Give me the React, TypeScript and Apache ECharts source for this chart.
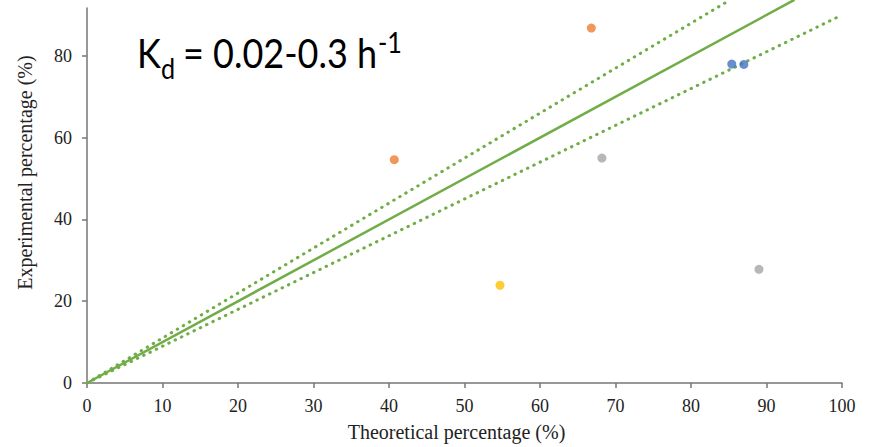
import React, { useEffect, useRef } from "react";
import * as echarts from "echarts";

const xTicks = [0, 10, 20, 30, 40, 50, 60, 70, 80, 90, 100];
const yTicks = [0, 20, 40, 60, 80];

const orangePts = [[40.7, 54.6], [66.8, 86.8]];
const grayPts = [[68.2, 55.0], [89.0, 27.8]];
const yellowPts = [[54.7, 23.9]];
const bluePts = [[85.4, 78.0], [87.0, 77.9]];

const identityLine = [[0, 0], [93.7, 93.7]];
const upperLine = [[0, 0], [85.2, 93.7]];
const lowerLine = [[0, 0], [100, 90]];

const GREEN = "#70AD47";

export default function App() {
  const ref = useRef<HTMLDivElement>(null);
  useEffect(() => {
    if (!ref.current) return;
    const chart = echarts.init(ref.current, undefined, { renderer: "svg" });
    const axisText = { fontFamily: "Liberation Serif", fontSize: 18, color: "#222" };
    const scatter = (data: number[][], color: string) => ({
      type: "scatter",
      data,
      symbolSize: 9,
      itemStyle: { color },
      z: 5,
    });
    const line = (data: number[][], dotted: boolean) => ({
      type: "line",
      data,
      showSymbol: false,
      clip: false,
      silent: true,
      lineStyle: dotted
        ? { color: GREEN, width: 3, type: [0.5, 6.5], cap: "round" }
        : { color: GREEN, width: 2.5, type: "solid" },
      z: 3,
    });
    const kText = (text: string, x: number, y: number, size: number) => ({
      type: "text",
      x,
      y,
      scaleX: 0.9,
      style: { text, fontFamily: "Lato", fontSize: size, fill: "#000", verticalAlign: "middle" },
    });
    chart.setOption({
      animation: false,
      grid: { left: 87, right: 31, top: 8, bottom: 63 },
      xAxis: {
        type: "value",
        min: 0,
        max: 100,
        interval: 10,
        name: "Theoretical percentage (%)",
        nameLocation: "middle",
        nameGap: 39,
        nameTextStyle: { ...axisText, fontSize: 20, padding: [0, 16, 0, 0] },
        axisLine: { lineStyle: { color: "#767676", width: 1.5 } },
        axisTick: { show: true, length: 5, customValues: xTicks, lineStyle: { color: "#767676", width: 1.5 } },
        axisLabel: { ...axisText, margin: 14, customValues: xTicks },
        splitLine: { show: false },
      },
      yAxis: {
        type: "value",
        min: 0,
        max: 91.7,
        name: "Experimental percentage (%)",
        nameLocation: "middle",
        nameGap: 52,
        nameRotate: 90,
        nameTextStyle: { ...axisText, fontSize: 20, padding: [0, 0, 0, 46] },
        axisLine: { show: true, lineStyle: { color: "#767676", width: 1.5 } },
        axisTick: { show: true, length: 5, customValues: yTicks, lineStyle: { color: "#767676", width: 1.5 } },
        axisLabel: { ...axisText, margin: 15, customValues: yTicks },
        splitLine: { show: false },
      },
      series: [
        line(identityLine, false),
        line(upperLine, true),
        line(lowerLine, true),
        scatter(orangePts, "#ED7D31"),
        scatter(grayPts, "#A5A5A5"),
        scatter(yellowPts, "#FFC000"),
        scatter(bluePts, "#4472C4"),
      ],
      graphic: [
        kText("K", 137, 52, 40),
        kText("d", 161, 68, 28),
        kText("= 0.02-0.3 h", 183, 52, 40),
        kText("-1", 378, 42, 28),
      ],
    });
    return () => chart.dispose();
  }, []);
  return <div ref={ref} style={{ width: 873, height: 447, position: "absolute", left: 0, top: 0 }} />;
}
